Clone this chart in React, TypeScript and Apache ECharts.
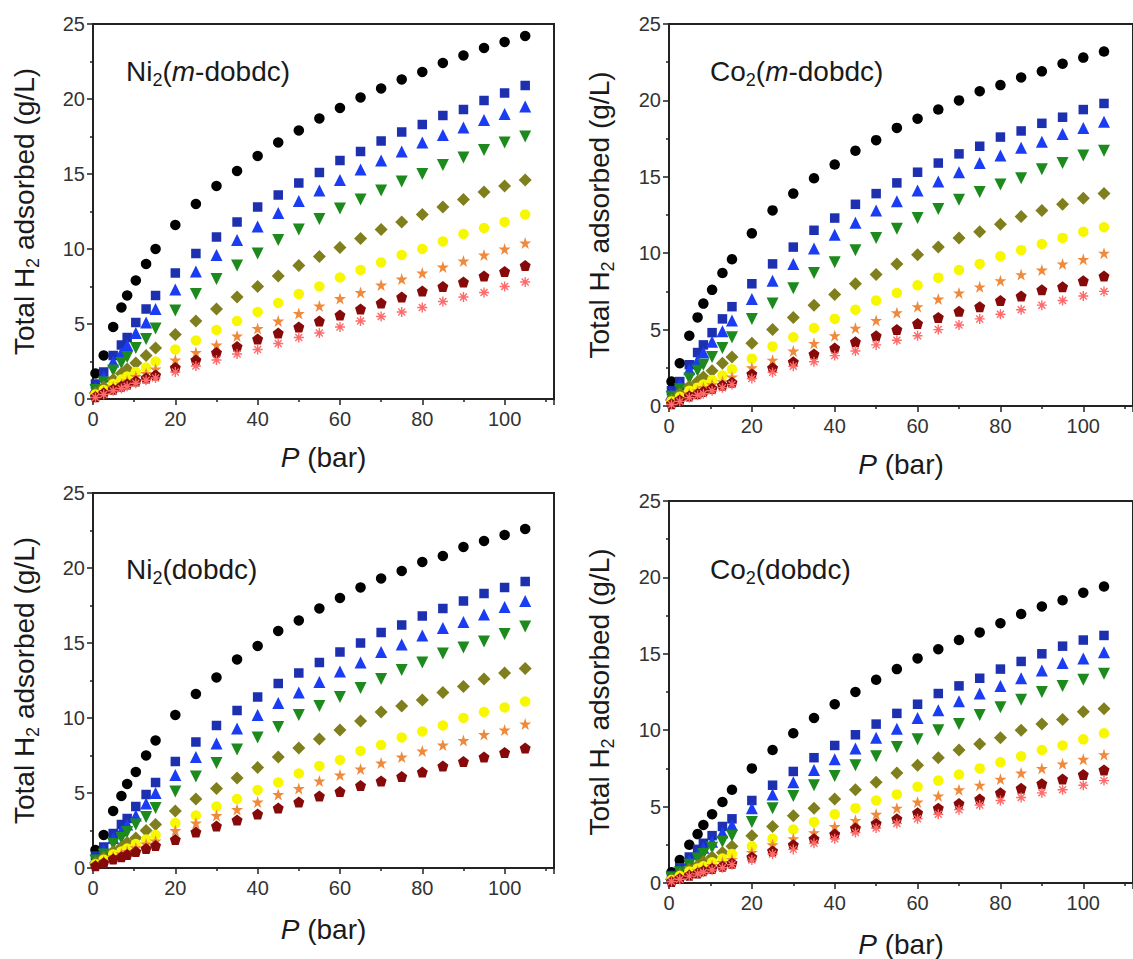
import React, { useEffect, useRef } from 'react';
import * as echarts from 'echarts';

// Pressure (bar) sample points shared by all isotherms
const PRESSURE = [0.6, 2.6, 4.9, 6.9, 8.3, 10.4, 12.9, 15.2, 20, 25, 30, 35, 40, 45, 50, 55, 60, 65, 70, 75, 80, 85, 90, 95, 100, 105];

// Panel titles (rich text)
const PANEL_TITLES = ['Ni{s|2}({i|m}-dobdc)', 'Co{s|2}({i|m}-dobdc)', 'Ni{s|2}(dobdc)', 'Co{s|2}(dobdc)'];
const X_NAME = '{i|P} (bar)';
const Y_NAME = 'Total H{s|2} adsorbed (g/L)';

// Ni2(m-dobdc)
const niM_circle = [1.7, 2.9, 4.8, 6.1, 6.9, 7.9, 9.0, 10.0, 11.6, 13.0, 14.2, 15.2, 16.2, 17.1, 17.9, 18.7, 19.4, 20.1, 20.7, 21.3, 21.8, 22.4, 22.9, 23.4, 23.8, 24.2];
const niM_square = [1.0, 1.8, 2.9, 3.6, 4.1, 5.1, 6.0, 6.9, 8.4, 9.7, 10.8, 11.8, 12.8, 13.6, 14.4, 15.1, 15.9, 16.5, 17.2, 17.8, 18.3, 18.9, 19.3, 19.9, 20.4, 20.9];
const niM_up = [0.8, 1.5, 2.5, 3.1, 3.6, 4.4, 5.1, 6.0, 7.3, 8.5, 9.6, 10.6, 11.5, 12.4, 13.2, 13.9, 14.6, 15.3, 15.9, 16.5, 17.1, 17.6, 18.1, 18.6, 19.0, 19.5];
const niM_down = [0.6, 1.1, 1.9, 2.4, 2.8, 3.4, 4.0, 4.7, 5.9, 7.0, 8.0, 8.9, 9.7, 10.6, 11.3, 12.0, 12.7, 13.3, 13.9, 14.5, 15.0, 15.6, 16.1, 16.6, 17.1, 17.5];
const niM_diamond = [0.4, 0.8, 1.3, 1.7, 2.0, 2.4, 2.9, 3.4, 4.3, 5.2, 6.0, 6.8, 7.5, 8.2, 8.9, 9.5, 10.1, 10.7, 11.3, 11.8, 12.3, 12.8, 13.3, 13.8, 14.2, 14.6];
const niM_yellow = [0.3, 0.6, 1.0, 1.3, 1.5, 1.8, 2.1, 2.5, 3.3, 3.9, 4.6, 5.2, 5.8, 6.4, 7.0, 7.5, 8.1, 8.6, 9.1, 9.6, 10.0, 10.5, 11.0, 11.4, 11.8, 12.3];
const niM_star = [0.2, 0.5, 0.8, 1.0, 1.2, 1.5, 1.7, 2.0, 2.6, 3.1, 3.6, 4.2, 4.7, 5.2, 5.7, 6.2, 6.7, 7.1, 7.6, 8.0, 8.4, 8.8, 9.2, 9.6, 10.0, 10.4];
const niM_pentagon = [0.15, 0.4, 0.65, 0.85, 1.0, 1.2, 1.4, 1.6, 2.1, 2.6, 3.1, 3.5, 4.0, 4.4, 4.8, 5.2, 5.6, 6.0, 6.4, 6.8, 7.2, 7.5, 7.8, 8.2, 8.5, 8.9];
const niM_asterisk = [0.1, 0.3, 0.55, 0.7, 0.85, 1.05, 1.25, 1.4, 1.8, 2.2, 2.6, 3.0, 3.3, 3.7, 4.1, 4.4, 4.8, 5.2, 5.5, 5.8, 6.1, 6.5, 6.8, 7.1, 7.5, 7.8];

// Co2(m-dobdc)
const coM_circle = [1.6, 2.8, 4.6, 5.8, 6.7, 7.6, 8.7, 9.6, 11.3, 12.8, 13.9, 14.9, 15.8, 16.7, 17.4, 18.2, 18.8, 19.4, 20.0, 20.6, 21.0, 21.5, 21.9, 22.4, 22.8, 23.2];
const coM_square = [1.0, 1.6, 2.7, 3.5, 4.0, 4.8, 5.7, 6.5, 8.0, 9.3, 10.4, 11.5, 12.3, 13.2, 13.9, 14.6, 15.3, 15.9, 16.5, 17.0, 17.6, 18.0, 18.5, 18.9, 19.4, 19.8];
const coM_up = [0.8, 1.4, 2.4, 3.0, 3.5, 4.2, 4.9, 5.6, 7.0, 8.2, 9.3, 10.3, 11.2, 12.0, 12.8, 13.4, 14.1, 14.7, 15.3, 15.9, 16.4, 16.9, 17.3, 17.8, 18.2, 18.6];
const coM_down = [0.6, 1.1, 1.8, 2.3, 2.7, 3.2, 3.8, 4.5, 5.7, 6.7, 7.7, 8.7, 9.4, 10.2, 11.0, 11.6, 12.3, 12.9, 13.5, 14.0, 14.5, 14.9, 15.5, 15.9, 16.4, 16.7];
const coM_diamond = [0.4, 0.8, 1.3, 1.6, 1.9, 2.3, 2.8, 3.2, 4.1, 5.0, 5.8, 6.6, 7.3, 8.0, 8.6, 9.3, 9.9, 10.4, 11.0, 11.4, 11.9, 12.4, 12.8, 13.2, 13.6, 13.9];
const coM_yellow = [0.3, 0.6, 1.0, 1.2, 1.4, 1.7, 2.0, 2.4, 3.1, 3.9, 4.5, 5.1, 5.7, 6.3, 6.9, 7.4, 7.9, 8.4, 8.9, 9.3, 9.8, 10.2, 10.6, 11.0, 11.4, 11.7];
const coM_star = [0.2, 0.5, 0.8, 1.0, 1.2, 1.4, 1.6, 1.9, 2.5, 3.0, 3.6, 4.1, 4.6, 5.1, 5.6, 6.1, 6.5, 7.0, 7.4, 7.8, 8.2, 8.6, 8.9, 9.3, 9.6, 10.0];
const coM_pentagon = [0.15, 0.4, 0.65, 0.8, 0.95, 1.15, 1.35, 1.55, 2.1, 2.5, 2.9, 3.4, 3.8, 4.2, 4.6, 5.0, 5.4, 5.8, 6.2, 6.5, 6.9, 7.2, 7.6, 7.8, 8.2, 8.5];
const coM_asterisk = [0.1, 0.3, 0.55, 0.7, 0.8, 1.0, 1.2, 1.4, 1.8, 2.2, 2.6, 2.9, 3.3, 3.6, 4.0, 4.3, 4.6, 5.0, 5.3, 5.7, 6.0, 6.3, 6.6, 6.9, 7.2, 7.5];

// Ni2(dobdc)
const niD_circle = [1.2, 2.2, 3.8, 4.8, 5.6, 6.4, 7.5, 8.5, 10.2, 11.6, 12.7, 13.9, 14.8, 15.8, 16.5, 17.3, 18.0, 18.7, 19.3, 19.8, 20.4, 20.8, 21.4, 21.8, 22.2, 22.6];
const niD_square = [0.8, 1.4, 2.3, 2.9, 3.3, 4.1, 4.9, 5.7, 7.1, 8.4, 9.5, 10.5, 11.4, 12.3, 13.0, 13.7, 14.4, 15.0, 15.7, 16.2, 16.8, 17.3, 17.8, 18.3, 18.7, 19.1];
const niD_up = [0.6, 1.2, 2.0, 2.5, 2.9, 3.5, 4.3, 5.0, 6.2, 7.4, 8.3, 9.3, 10.2, 11.0, 11.7, 12.4, 13.1, 13.7, 14.4, 14.9, 15.5, 16.0, 16.4, 16.9, 17.4, 17.8];
const niD_down = [0.5, 0.9, 1.6, 2.0, 2.4, 2.9, 3.4, 4.0, 5.1, 6.1, 7.0, 7.9, 8.7, 9.4, 10.2, 10.8, 11.4, 12.0, 12.6, 13.2, 13.7, 14.3, 14.7, 15.1, 15.6, 16.1];
const niD_diamond = [0.35, 0.7, 1.1, 1.4, 1.7, 2.0, 2.5, 2.9, 3.8, 4.6, 5.3, 6.0, 6.7, 7.4, 8.0, 8.6, 9.2, 9.8, 10.4, 10.8, 11.2, 11.7, 12.1, 12.6, 13.0, 13.3];
const niD_yellow = [0.25, 0.55, 0.9, 1.1, 1.3, 1.6, 1.9, 2.2, 3.0, 3.5, 4.1, 4.6, 5.2, 5.7, 6.3, 6.8, 7.2, 7.8, 8.2, 8.7, 9.1, 9.5, 10.0, 10.4, 10.7, 11.1];
const niD_star = [0.2, 0.45, 0.75, 0.95, 1.1, 1.35, 1.6, 1.8, 2.5, 3.0, 3.5, 3.9, 4.4, 4.9, 5.3, 5.8, 6.2, 6.6, 7.0, 7.4, 7.8, 8.2, 8.5, 8.9, 9.2, 9.6];
const niD_pentagon = [0.15, 0.35, 0.6, 0.75, 0.9, 1.1, 1.3, 1.5, 1.9, 2.4, 2.8, 3.2, 3.6, 4.0, 4.4, 4.8, 5.1, 5.5, 5.8, 6.1, 6.4, 6.8, 7.1, 7.4, 7.7, 8.0];

// Co2(dobdc)
const coD_circle = [0.7, 1.5, 2.5, 3.2, 3.8, 4.5, 5.3, 6.1, 7.5, 8.7, 9.8, 10.8, 11.7, 12.5, 13.3, 14.0, 14.7, 15.3, 15.9, 16.4, 17.0, 17.6, 18.1, 18.5, 19.0, 19.4];
const coD_square = [0.5, 1.0, 1.7, 2.2, 2.6, 3.1, 3.7, 4.2, 5.4, 6.4, 7.3, 8.2, 9.0, 9.7, 10.4, 11.1, 11.7, 12.4, 12.9, 13.4, 14.0, 14.5, 15.0, 15.5, 15.9, 16.2];
const coD_up = [0.4, 0.9, 1.5, 1.9, 2.3, 2.7, 3.3, 3.8, 4.9, 5.8, 6.6, 7.4, 8.1, 8.8, 9.5, 10.1, 10.8, 11.3, 11.9, 12.4, 12.9, 13.4, 13.9, 14.4, 14.7, 15.1];
const coD_down = [0.35, 0.7, 1.2, 1.6, 1.9, 2.3, 2.7, 3.1, 4.0, 4.9, 5.7, 6.4, 7.0, 7.7, 8.3, 8.9, 9.4, 10.0, 10.4, 11.0, 11.5, 12.0, 12.5, 12.9, 13.3, 13.7];
const coD_diamond = [0.25, 0.55, 0.9, 1.15, 1.4, 1.7, 2.0, 2.4, 3.1, 3.7, 4.4, 4.9, 5.5, 6.1, 6.6, 7.2, 7.7, 8.2, 8.7, 9.1, 9.5, 10.0, 10.4, 10.7, 11.2, 11.4];
const coD_yellow = [0.2, 0.45, 0.75, 0.95, 1.1, 1.35, 1.6, 1.9, 2.4, 2.9, 3.5, 4.0, 4.5, 4.9, 5.4, 5.8, 6.3, 6.7, 7.1, 7.5, 7.9, 8.3, 8.7, 9.0, 9.4, 9.8];
const coD_star = [0.15, 0.35, 0.6, 0.8, 0.95, 1.15, 1.35, 1.55, 2.0, 2.5, 2.9, 3.3, 3.7, 4.1, 4.5, 4.9, 5.3, 5.7, 6.1, 6.4, 6.8, 7.2, 7.5, 7.8, 8.1, 8.4];
const coD_pentagon = [0.1, 0.3, 0.5, 0.65, 0.8, 0.95, 1.1, 1.3, 1.7, 2.1, 2.5, 2.9, 3.2, 3.6, 3.9, 4.2, 4.6, 4.9, 5.2, 5.5, 5.9, 6.2, 6.5, 6.8, 7.1, 7.4];
const coD_asterisk = [0.1, 0.25, 0.45, 0.6, 0.7, 0.85, 1.0, 1.2, 1.5, 1.9, 2.2, 2.6, 2.9, 3.3, 3.6, 3.9, 4.2, 4.5, 4.8, 5.1, 5.4, 5.6, 5.9, 6.1, 6.4, 6.7];

const PANEL_SERIES = [
  [niM_circle, niM_square, niM_up, niM_down, niM_diamond, niM_yellow, niM_star, niM_pentagon, niM_asterisk],
  [coM_circle, coM_square, coM_up, coM_down, coM_diamond, coM_yellow, coM_star, coM_pentagon, coM_asterisk],
  [niD_circle, niD_square, niD_up, niD_down, niD_diamond, niD_yellow, niD_star, niD_pentagon, null],
  [coD_circle, coD_square, coD_up, coD_down, coD_diamond, coD_yellow, coD_star, coD_pentagon, coD_asterisk],
];

const STAR = 'path://M50 0 L61.2 34.5 L97.6 34.5 L68.2 55.9 L79.4 90.5 L50 69.1 L20.6 90.5 L31.8 55.9 L2.4 34.5 L38.8 34.5 Z';
const PENTAGON = 'path://M50 0 L97.6 34.5 L79.4 90.5 L20.6 90.5 L2.4 34.5 Z';
const ASTERISK = 'path://M43 0 L57 0 L57 100 L43 100 Z M0 43 L100 43 L100 57 L0 57 Z M19.9 10.1 L89.9 80.1 L80.1 89.9 L10.1 19.9 Z M89.9 19.9 L19.9 89.9 L10.1 80.1 L80.1 10.1 Z';

const MARKERS = [
  { symbol: 'circle', size: 10.5, rotate: 0, color: '#000000' },
  { symbol: 'rect', size: 9.5, rotate: 0, color: '#1c30b0' },
  { symbol: 'triangle', size: 12, rotate: 0, color: '#1a3cf2' },
  { symbol: 'triangle', size: 12, rotate: 180, color: '#1c8a1c' },
  { symbol: 'diamond', size: 13, rotate: 0, color: '#7f7f1e' },
  { symbol: 'circle', size: 10.5, rotate: 0, color: '#f7f700' },
  { symbol: STAR, size: 12, rotate: 0, color: '#f0893a' },
  { symbol: PENTAGON, size: 11, rotate: 0, color: '#870a0a' },
  { symbol: ASTERISK, size: 10, rotate: 0, color: '#ff6a6a' },
];

const FONT = '"Liberation Sans", Arial, Helvetica, sans-serif';
const INK = '#1a1a1a';
const NAME_SIZE = 28;
const TITLE_SIZE = 28;

const GRIDS = [
  { left: 93, top: 24, width: 461, height: 375, nameGapY: 51, nameGapX: 44 },
  { left: 669, top: 24, width: 468, height: 382, nameGapY: 52, nameGapX: 44 },
  { left: 93, top: 493, width: 461, height: 375, nameGapY: 51, nameGapX: 47 },
  { left: 669, top: 501, width: 468, height: 382, nameGapY: 52, nameGapX: 47 },
];
const TITLE_POS = [
  { left: 126, top: 54 },
  { left: 710, top: 54 },
  { left: 126, top: 552 },
  { left: 710, top: 552 },
];

function richFor(size: number) {
  return {
    s: { fontSize: Math.round(size * 0.66), fontFamily: FONT, color: INK, padding: [Math.round(size * 0.62), 0, 0, 0] },
    i: { fontSize: size, fontFamily: FONT, color: INK, fontStyle: 'italic' },
  };
}

export default function App() {
  const ref = useRef<HTMLDivElement>(null);
  useEffect(() => {
    document.body.style.margin = '0';
    if (!ref.current) return;
    const chart = echarts.init(ref.current, undefined, { renderer: 'svg' });

    const grid = GRIDS.map((g) => ({
      left: g.left, top: g.top, width: g.width, height: g.height,
      show: true, borderColor: '#222', borderWidth: 2, backgroundColor: 'transparent', containLabel: false,
    }));

    const xAxis = GRIDS.map((g, i) => ({
      type: 'value', gridIndex: i, min: 0, max: 112, interval: 20,
      name: X_NAME, nameLocation: 'middle', nameGap: g.nameGapX,
      nameTextStyle: { fontSize: NAME_SIZE, fontFamily: FONT, color: INK, rich: richFor(NAME_SIZE) },
      axisLine: { show: true, onZero: false, lineStyle: { color: '#222', width: 2 } },
      axisTick: { show: true, length: 6, lineStyle: { color: '#222', width: 1.5 } },
      minorTick: { show: true, splitNumber: 2, length: 3, lineStyle: { color: '#222', width: 1.5 } },
      axisLabel: { fontSize: 20, fontFamily: FONT, color: '#333', margin: 10, showMaxLabel: false },
      splitLine: { show: false },
    }));

    const yAxis = GRIDS.map((g, i) => ({
      type: 'value', gridIndex: i, min: 0, max: 25, interval: 5,
      name: Y_NAME, nameLocation: 'middle', nameGap: g.nameGapY, nameRotate: 90,
      nameTextStyle: { fontSize: NAME_SIZE, fontFamily: FONT, color: INK, rich: richFor(NAME_SIZE) },
      axisLine: { show: true, onZero: false, lineStyle: { color: '#222', width: 2 } },
      axisTick: { show: true, length: 6, lineStyle: { color: '#222', width: 1.5 } },
      minorTick: { show: true, splitNumber: 2, length: 3, lineStyle: { color: '#222', width: 1.5 } },
      axisLabel: { fontSize: 20, fontFamily: FONT, color: '#333', margin: 8 },
      splitLine: { show: false },
    }));

    const title = PANEL_TITLES.map((t, i) => ({
      text: t, left: TITLE_POS[i].left, top: TITLE_POS[i].top, padding: 0,
      textStyle: { fontSize: TITLE_SIZE, fontWeight: 'normal', fontFamily: FONT, color: INK, rich: richFor(TITLE_SIZE) },
    }));

    const series: any[] = [];
    PANEL_SERIES.forEach((list, gi) => {
      list.forEach((arr, si) => {
        if (!arr) return;
        const m = MARKERS[si];
        series.push({
          type: 'scatter', xAxisIndex: gi, yAxisIndex: gi,
          data: PRESSURE.map((p, k) => [p, arr[k]]),
          symbol: m.symbol, symbolSize: m.size, symbolRotate: m.rotate,
          itemStyle: { color: m.color, opacity: 1 },
          emphasis: { disabled: true }, silent: true,
        });
      });
    });

    chart.setOption({
      animation: false,
      backgroundColor: '#ffffff',
      title, grid, xAxis, yAxis, series,
    });
    return () => chart.dispose();
  }, []);
  return <div ref={ref} style={{ width: 1133, height: 959 }} />;
}
